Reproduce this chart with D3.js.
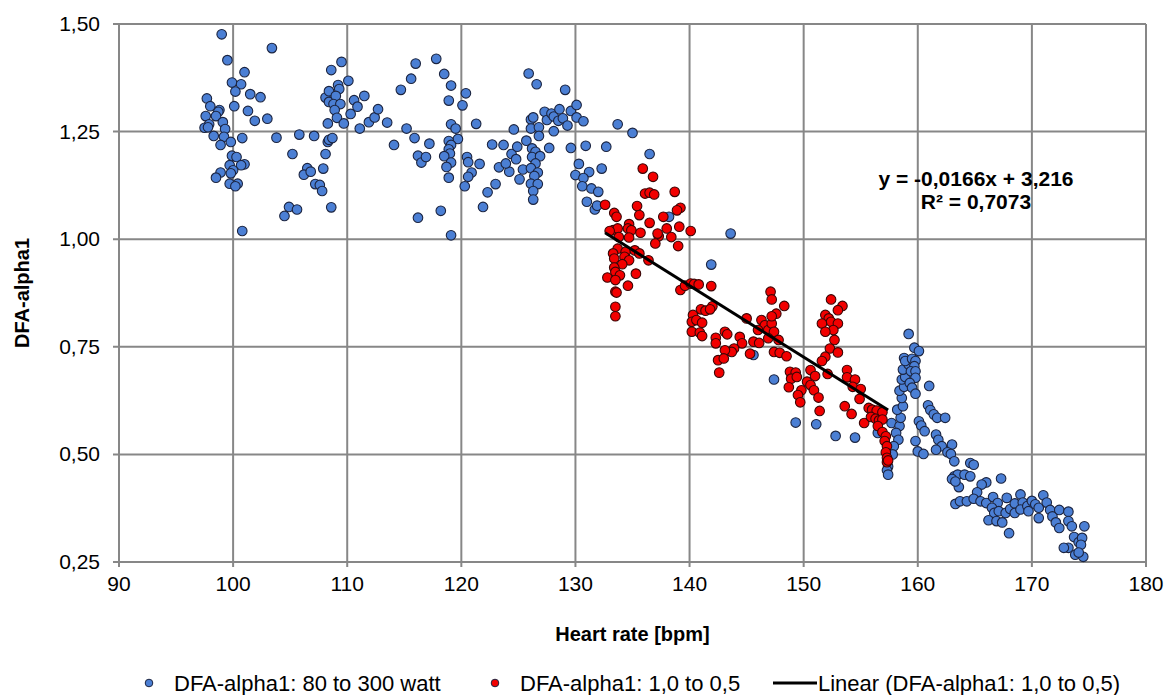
<!DOCTYPE html>
<html>
<head>
<meta charset="utf-8">
<script src="https://cdn.jsdelivr.net/npm/d3@7"></script>
<style>
  body { margin: 0; background: #fff; }
  text { font-family: "Liberation Sans", Arial, sans-serif; fill: #000; }
</style>
</head>
<body>
<div id="chart"></div>
<script>
// heart rate [bpm], DFA-alpha1
const bluePoints = [
  [99.0,1.476],[99.5,1.416],[103.4,1.444],[101.0,1.388],[99.9,1.364],[100.7,1.360],[100.2,1.343],[101.5,1.337],[102.4,1.330],[97.7,1.327],
  [98.0,1.309],[100.1,1.309],[98.8,1.300],[98.7,1.296],[101.3,1.298],[97.6,1.286],[98.5,1.286],[99.1,1.272],[101.9,1.275],[103.0,1.280],
  [97.9,1.267],[97.5,1.259],[97.8,1.260],[99.3,1.256],[98.3,1.240],[99.2,1.238],[99.8,1.226],[98.9,1.219],[100.8,1.235],[103.8,1.236],
  [99.9,1.194],[100.3,1.191],[99.7,1.172],[101.0,1.174],[100.7,1.172],[100.0,1.160],[98.9,1.155],[98.5,1.143],[99.8,1.153],[99.7,1.129],
  [100.4,1.129],[100.2,1.123],[100.8,1.019],[105.2,1.198],[105.8,1.243],[107.1,1.240],[106.5,1.165],[106.2,1.150],[106.8,1.157],[107.2,1.128],
  [107.6,1.126],[107.8,1.112],[104.9,1.075],[105.6,1.069],[104.5,1.054],[108.1,1.198],[107.9,1.164],[108.3,1.226],[108.4,1.231],[108.7,1.235],
  [108.6,1.074],[108.3,1.269],[108.1,1.329],[108.4,1.344],[108.4,1.319],[108.6,1.393],[109.5,1.412],[109.2,1.358],[109.3,1.349],[109.0,1.333],
  [108.8,1.314],[109.4,1.314],[108.9,1.300],[109.1,1.282],[109.7,1.269],[110.1,1.368],[110.6,1.323],[110.9,1.308],[110.3,1.291],[111.5,1.333],
  [111.1,1.257],[111.9,1.272],[112.4,1.283],[112.7,1.302],
  [113.5,1.271],[114.1,1.219],[114.7,1.347],[115.2,1.257],[115.6,1.373],[115.9,1.235],[116.0,1.408],[116.2,1.194],[116.5,1.178],[116.9,1.191],
  [117.2,1.222],[116.2,1.050],[117.8,1.419],[118.5,1.384],[119.1,1.357],[118.9,1.322],[120.4,1.339],[120.1,1.311],[119.1,1.267],[119.5,1.257],
  [119.7,1.233],[118.9,1.228],[119.1,1.219],[118.9,1.209],[119.0,1.199],[118.5,1.193],[119.1,1.178],[118.7,1.168],[118.9,1.143],[118.2,1.066],
  [119.1,1.009],[121.3,1.268],[120.5,1.191],[120.6,1.179],[121.6,1.175],[120.9,1.155],[120.6,1.145],[120.3,1.123],[122.3,1.109],[121.9,1.075],
  [123.0,1.128],[122.7,1.220],[123.7,1.219],[123.3,1.167],[124.2,1.157],[123.9,1.176],[124.6,1.255],[124.4,1.198],[124.9,1.215],[124.8,1.186],
  [125.1,1.139],[125.4,1.162],[125.7,1.229],[125.9,1.385],[126.6,1.360],[126.1,1.278],[126.3,1.283],[126.1,1.257],[126.8,1.260],[126.8,1.240],
  [126.2,1.211],[126.5,1.203],[126.2,1.191],[126.9,1.193],[126.5,1.176],[126.1,1.165],[126.7,1.155],[126.4,1.147],[126.1,1.129],[126.7,1.128],
  [126.3,1.112],[126.3,1.092],[127.3,1.296],[127.5,1.277],[127.9,1.292],[128.1,1.285],[128.1,1.251],[127.7,1.212],[128.6,1.302],[128.5,1.275],
  [128.9,1.281],[129.1,1.347],[129.3,1.264],[129.6,1.298],[130.1,1.312],[130.1,1.283],[130.7,1.274],[129.6,1.212],[130.9,1.217],[130.3,1.175],
  [131.2,1.156],[130.0,1.149],[130.7,1.142],[130.6,1.123],[131.4,1.118],[132.0,1.110],[132.3,1.164],[132.7,1.215],[131.0,1.087],[131.7,1.069],
  [131.9,1.078],[133.7,1.267],[135.0,1.247],[136.5,1.198],
  [138.2,1.052],[143.6,1.013],[141.9,0.941],[145.6,0.731],[147.4,0.674],[149.3,0.574],[151.1,0.570],[152.8,0.543],[154.5,0.539],
  [156.5,0.550],[157.7,0.573],[158.4,0.566],[158.1,0.550],[158.3,0.534],[157.9,0.519],[157.8,0.500],[157.4,0.472],[157.3,0.463],[157.4,0.453],
  [158.5,0.585],[158.2,0.604],[158.7,0.612],[158.6,0.631],[158.4,0.648],[158.8,0.657],[158.6,0.674],[158.9,0.680],[158.7,0.697],[159.2,0.709],
  [158.8,0.724],[158.9,0.717],[159.5,0.722],[159.8,0.717],[159.7,0.705],[159.4,0.693],[159.8,0.693],[159.8,0.678],[159.3,0.666],[159.5,0.655],
  [159.8,0.641],[159.2,0.780],[159.7,0.748],[160.1,0.740],[161.0,0.659],[160.9,0.614],[161.1,0.603],[161.4,0.593],[161.7,0.585],[162.4,0.585],
  [160.1,0.577],[160.3,0.567],[160.6,0.554],[159.8,0.531],[160.0,0.507],[160.5,0.501],[161.6,0.546],[161.8,0.534],[162.1,0.519],[161.6,0.511],
  [163.0,0.523],[162.6,0.505],[162.9,0.501],[163.2,0.484],[164.6,0.480],[164.9,0.476],[163.2,0.449],[163.5,0.453],[164.1,0.453],[164.6,0.449],
  [163.0,0.443],[163.6,0.424],[163.3,0.437],[167.3,0.444],[166.0,0.435],[165.6,0.430],[165.2,0.412],[163.3,0.385],[163.7,0.391],[164.3,0.391],
  [164.9,0.397],[165.5,0.391],[166.0,0.387],[166.6,0.401],[167.0,0.387],[167.8,0.399],[166.5,0.376],[166.7,0.364],[166.2,0.347],[166.9,0.345],
  [167.4,0.342],[168.0,0.317],[167.1,0.368],[167.7,0.364],[168.1,0.373],[168.5,0.386],[168.5,0.364],[169.0,0.407],[169.2,0.388],[169.0,0.372],
  [169.6,0.380],[169.7,0.368],[170.0,0.392],[170.3,0.384],[170.6,0.376],[170.6,0.352],[171.0,0.405],[171.3,0.388],[171.6,0.371],[171.8,0.356],
  [172.4,0.371],[172.1,0.342],[172.4,0.329],[173.2,0.367],[173.2,0.345],[173.5,0.333],[173.7,0.308],[173.2,0.283],[172.8,0.283],[174.1,0.296],
  [174.4,0.306],[174.6,0.333],[174.3,0.290],[173.8,0.267],[174.5,0.262],[174.1,0.272]
];

const redPoints = [
  [135.9,1.164],[136.8,1.145],[136.1,1.106],[136.5,1.108],[136.9,1.104],[138.7,1.110],[132.6,1.080],[135.4,1.077],[135.6,1.056],[139.2,1.073],
  [138.9,1.067],[133.4,1.061],[133.6,1.052],[137.7,1.052],[138.0,1.025],[136.5,1.038],[139.1,1.029],[140.1,1.019],[134.7,1.035],[134.6,1.025],
  [134.9,1.021],[133.3,1.021],[133.7,1.025],[133.0,1.019],[135.7,1.015],[133.8,1.005],[134.7,1.004],[137.3,1.007],[137.2,1.013],[138.4,1.005],
  [137.0,0.990],[139.0,0.984],[133.7,0.978],[133.3,0.967],[134.4,0.971],[135.2,0.974],[135.6,0.967],[134.3,0.959],[133.4,0.955],[134.7,0.951],
  [136.4,0.951],[134.1,0.942],[133.4,0.934],[133.5,0.924],[133.9,0.916],[132.8,0.911],[135.3,0.920],[133.5,0.905],[134.6,0.892],[133.5,0.878],
  [133.6,0.876],[133.5,0.843],[133.5,0.821],[139.2,0.882],[139.6,0.892],[140.1,0.897],[140.4,0.896],[140.8,0.895],[141.9,0.891],[142.0,0.844],
  [141.0,0.837],[141.4,0.834],[141.8,0.837],[140.3,0.824],[140.2,0.808],[140.6,0.812],[141.1,0.806],[140.2,0.785],[140.9,0.783],[141.1,0.775],
  [142.3,0.771],[142.3,0.758],[143.1,0.785],[143.3,0.779],[144.4,0.773],[144.6,0.758],[143.9,0.746],[143.7,0.738],[143.1,0.742],[142.5,0.719],
  [143.0,0.723],[142.6,0.690],[145.3,0.734],[145.0,0.816],[145.6,0.762],[146.1,0.759],[146.3,0.812],[146.6,0.800],[146.0,0.789],[146.9,0.789],
  [147.2,0.804],[147.4,0.785],[147.6,0.827],[147.2,0.821],[147.1,0.878],[147.2,0.860],[148.3,0.845],[146.9,0.770],[147.8,0.766],[147.4,0.738],
  [147.9,0.736],[148.5,0.728],[148.8,0.692],[149.3,0.690],[148.9,0.676],[149.4,0.680],[148.7,0.656],[149.8,0.649],[149.5,0.638],[149.7,0.621],
  [150.3,0.669],[150.6,0.696],[151.0,0.682],[150.6,0.661],[150.9,0.649],[151.3,0.632],[151.4,0.601],[152.1,0.687],[152.4,0.860],[153.4,0.845],
  [153.0,0.835],[151.9,0.824],[152.2,0.816],[152.4,0.808],[151.6,0.804],[153.0,0.804],[152.6,0.789],[151.9,0.785],[152.7,0.766],[152.3,0.746],
  [153.0,0.737],[151.9,0.727],[151.6,0.717],[153.8,0.696],[153.8,0.679],[154.5,0.674],[154.3,0.657],[153.6,0.612],[154.2,0.594],
  [155.0,0.652],[154.9,0.629],[155.7,0.608],[156.0,0.604],[156.4,0.602],[156.9,0.598],[155.3,0.573],[155.9,0.587],[156.3,0.583],[156.6,0.579],
  [156.9,0.581],[156.5,0.566],[156.9,0.552],[157.2,0.542],[157.1,0.531],[157.3,0.519],[157.2,0.505],[157.3,0.492],[157.3,0.482],[157.4,0.486]
];

// trendline from the chart label: y = -0,0166x + 3,216
const trendSlope = -0.0166;
const trendIntercept = 3.216;
const trendText = ["y = -0,0166x + 3,216", "R\u00b2 = 0,7073"];

const xTicks = [90, 100, 110, 120, 130, 140, 150, 160, 170, 180];
const yTicks = [0.25, 0.5, 0.75, 1.0, 1.25, 1.5];

const legendItems = [
  { label: "DFA-alpha1: 80 to 300 watt", type: "dot", color: "#4b7fd4" },
  { label: "DFA-alpha1: 1,0 to 0,5", type: "dot", color: "#f20000" },
  { label: "Linear (DFA-alpha1: 1,0 to 0,5)", type: "line", color: "#000" }
];

const width = 1175, height = 695;
const margin = { top: 24, right: 29, bottom: 133, left: 119 };
const innerW = width - margin.left - margin.right;
const innerH = height - margin.top - margin.bottom;
const gridColor = "#878787";

const svg = d3.select("#chart").append("svg")
  .attr("width", width)
  .attr("height", height);

const g = svg.append("g").attr("transform", `translate(${margin.left},${margin.top})`);

const x = d3.scaleLinear().domain([90, 180]).range([0, innerW]);
const y = d3.scaleLinear().domain([0.25, 1.5]).range([innerH, 0]);

// gridlines
g.append("g").selectAll("line").data(xTicks).enter().append("line")
  .attr("x1", d => x(d)).attr("x2", d => x(d))
  .attr("y1", 0).attr("y2", innerH + 5)
  .attr("stroke", gridColor).attr("stroke-width", 2);

g.append("g").selectAll("line").data(yTicks).enter().append("line")
  .attr("x1", -6).attr("x2", innerW)
  .attr("y1", d => y(d)).attr("y2", d => y(d))
  .attr("stroke", gridColor).attr("stroke-width", 2);

// tick labels
g.append("g").selectAll("text").data(xTicks).enter().append("text")
  .attr("x", d => x(d))
  .attr("y", innerH + 29)
  .attr("text-anchor", "middle")
  .style("font-size", "21px")
  .text(d => d);

g.append("g").selectAll("text").data(yTicks).enter().append("text")
  .attr("x", -19)
  .attr("y", d => y(d) + 7)
  .attr("text-anchor", "end")
  .style("font-size", "21px")
  .text(d => d3.format(".2f")(d).replace(".", ","));

// axis titles
svg.append("text")
  .attr("x", margin.left + innerW / 2)
  .attr("y", 641)
  .attr("text-anchor", "middle")
  .style("font-size", "20px")
  .style("font-weight", "bold")
  .text("Heart rate [bpm]");

svg.append("text")
  .attr("transform", `translate(29,${margin.top + innerH / 2}) rotate(-90)`)
  .attr("text-anchor", "middle")
  .style("font-size", "20px")
  .style("font-weight", "bold")
  .text("DFA-alpha1");

// points
g.append("g").selectAll("circle").data(bluePoints).enter().append("circle")
  .attr("cx", d => x(d[0])).attr("cy", d => y(d[1])).attr("r", 4.8)
  .attr("fill", legendItems[0].color).attr("stroke", "#1b2440").attr("stroke-width", 1.1);

g.append("g").selectAll("circle").data(redPoints).enter().append("circle")
  .attr("cx", d => x(d[0])).attr("cy", d => y(d[1])).attr("r", 4.8)
  .attr("fill", legendItems[1].color).attr("stroke", "#3a0505").attr("stroke-width", 1.1);

// trendline across the red series
const redExtent = d3.extent(redPoints, d => d[0]);
g.append("line")
  .attr("x1", x(redExtent[0])).attr("y1", y(trendSlope * redExtent[0] + trendIntercept))
  .attr("x2", x(redExtent[1])).attr("y2", y(trendSlope * redExtent[1] + trendIntercept))
  .attr("stroke", "#000").attr("stroke-width", 3);

svg.append("g").selectAll("text").data(trendText).enter().append("text")
  .attr("x", 976)
  .attr("y", (d, i) => 186 + i * 23)
  .attr("text-anchor", "middle")
  .style("font-size", "21px")
  .style("font-weight", "bold")
  .text(d => d);

// legend
const legendX = [149, 495, 773];
const legendY = 683;
const legend = svg.append("g").selectAll("g").data(legendItems).enter().append("g")
  .attr("transform", (d, i) => `translate(${legendX[i]},${legendY})`);

legend.filter(d => d.type === "dot").append("circle")
  .attr("r", 3.8)
  .attr("fill", d => d.color)
  .attr("stroke", "#1b2440").attr("stroke-width", 1);

legend.filter(d => d.type === "line").append("line")
  .attr("x1", 0).attr("x2", 44)
  .attr("stroke", d => d.color).attr("stroke-width", 3);

legend.append("text")
  .attr("x", d => d.type === "line" ? 45 : 25)
  .attr("y", 7.5)
  .style("font-size", "22px")
  .text(d => d.label);
</script>
</body>
</html>
